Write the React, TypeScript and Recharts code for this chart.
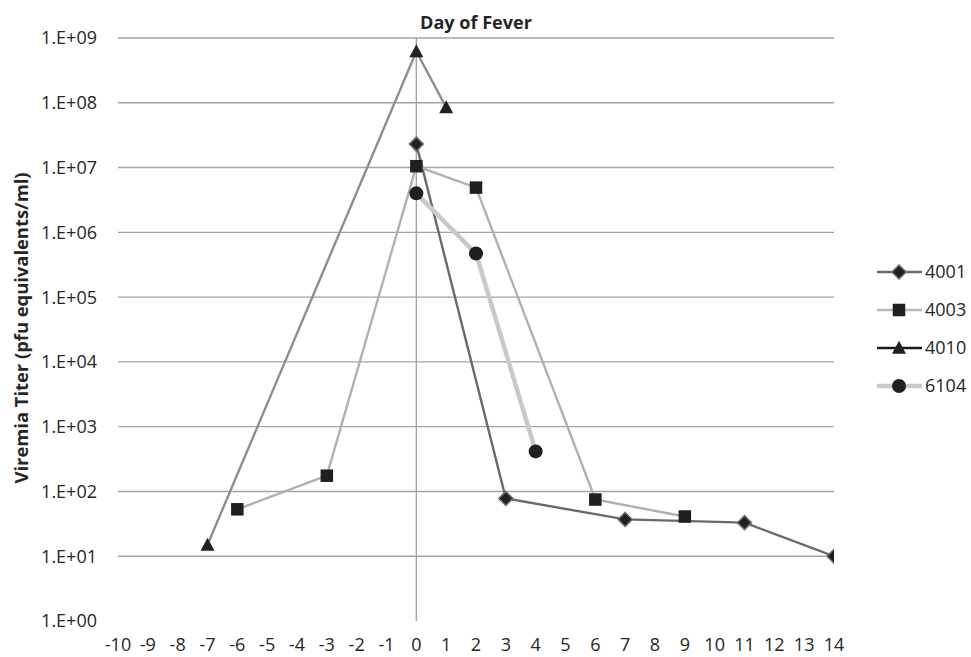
import React from 'react';
import { LineChart, Line, XAxis, YAxis, ReferenceLine } from 'recharts';

const xTicks = [-10, -9, -8, -7, -6, -5, -4, -3, -2, -1, 0, 1, 2, 3, 4, 5, 6, 7, 8, 9, 10, 11, 12, 13, 14];
const yTicks = [1, 1e1, 1e2, 1e3, 1e4, 1e5, 1e6, 1e7, 1e8, 1e9];
const gridValues = [1e1, 1e2, 1e3, 1e4, 1e5, 1e6, 1e7, 1e8, 1e9];

const days4001 = [0, 3, 7, 11, 14];
const titer4001 = [2.3e7, 78, 37, 33, 10];
const days4003 = [-6, -3, 0, 2, 6, 9];
const titer4003 = [53, 175, 1.05e7, 4.9e6, 75, 41];
const days4010 = [-7, 0, 1];
const titer4010 = [15, 6.2e8, 8.5e7];
const days6104 = [0, 2, 4];
const titer6104 = [4.0e6, 4.7e5, 415];

const toPoints = (days: number[], titers: number[]) =>
  days.map((d, i) => ({ day: d, titer: titers[i] }));

const FONT = '"Open Sans", "Noto Sans", sans-serif';
const TEXT = '#262626';
const MARK = '#231f20';

type Shape = 'diamond' | 'square' | 'triangle' | 'circle';

function Marker({ shape, cx, cy, border }: { shape: Shape; cx: number; cy: number; border?: string }) {
  if (cx == null || cy == null || isNaN(cx) || isNaN(cy)) return null;
  if (shape === 'diamond') {
    const r = 7;
    return (
      <path
        d={`M${cx},${cy - r}L${cx + r},${cy}L${cx},${cy + r}L${cx - r},${cy}Z`}
        fill={MARK}
        stroke={border || '#6a6a6a'}
        strokeWidth={1.5}
      />
    );
  }
  if (shape === 'square') {
    const s = 12.5;
    return <rect x={cx - s / 2} y={cy - s / 2} width={s} height={s} fill={MARK} />;
  }
  if (shape === 'triangle') {
    const w = 14;
    const h = 13;
    return (
      <path
        d={`M${cx},${cy - h * 0.55}L${cx + w / 2},${cy + h * 0.45}L${cx - w / 2},${cy + h * 0.45}Z`}
        fill={MARK}
      />
    );
  }
  return <circle cx={cx} cy={cy} r={7} fill={MARK} />;
}

const seriesInfo = [
  { name: '4001', shape: 'diamond' as Shape, line: '#6a6a6a', legendLine: '#6a6a6a', width: 2.4 },
  { name: '4003', shape: 'square' as Shape, line: '#b0b0b0', legendLine: '#b8b8b8', width: 2.4 },
  { name: '4010', shape: 'triangle' as Shape, line: '#8e8e8e', legendLine: '#1a1a1a', width: 2.4 },
  { name: '6104', shape: 'circle' as Shape, line: '#c9c9c9', legendLine: '#c9c9c9', width: 4.5 },
];

const seriesData = [
  toPoints(days4001, titer4001),
  toPoints(days4003, titer4003),
  toPoints(days4010, titer4010),
  toPoints(days6104, titer6104),
];

const formatY = (v: number) => {
  const e = Math.round(Math.log10(v));
  return `1.E+${e < 10 ? '0' + e : e}`;
};

export default function App() {
  return (
    <div style={{ position: 'absolute', left: 0, top: 0, width: 971, height: 657, background: '#fff' }}>
      <LineChart
        width={971}
        height={657}
        margin={{ top: 38, right: 137, bottom: 0, left: 0 }}
      >
        <XAxis
          type="number"
          dataKey="day"
          domain={[-10, 14]}
          ticks={xTicks}
          interval={0}
          axisLine={false}
          tickLine={false}
          tickSize={6}
          tickMargin={11}
          height={36}
          allowDataOverflow
          tick={{ fontFamily: FONT, fontSize: 18, fill: TEXT }}
        />
        <YAxis
          type="number"
          dataKey="titer"
          scale="log"
          domain={[1, 1e9]}
          ticks={yTicks}
          interval={0}
          axisLine={false}
          tickLine={false}
          tickSize={6}
          tickMargin={15}
          width={118}
          allowDataOverflow
          tickFormatter={formatY}
          tick={{ fontFamily: FONT, fontSize: 18, fill: TEXT }}
        />
        {gridValues.map((v) => (
          <ReferenceLine key={v} y={v} stroke="#a3a3a3" strokeWidth={1.4} />
        ))}
        <ReferenceLine x={0} stroke="#a3a3a3" strokeWidth={1.4} />
        {seriesInfo.map((s, i) => (
          <Line
            key={s.name}
            name={s.name}
            data={seriesData[i]}
            dataKey="titer"
            type="linear"
            stroke={s.line}
            strokeWidth={s.width}
            isAnimationActive={false}
            dot={(p: any) => <Marker key={`${s.name}-${p.index}`} shape={s.shape} cx={p.cx} cy={p.cy} />}
            activeDot={false}
          />
        ))}
      </LineChart>
      <svg
        width={971}
        height={657}
        style={{ position: 'absolute', left: 0, top: 0, pointerEvents: 'none' }}
      >
        <text
          x={476}
          y={29}
          textAnchor="middle"
          fontFamily={FONT}
          fontWeight="bold"
          fontSize={18}
          fill={TEXT}
          textLength={112}
          lengthAdjust="spacingAndGlyphs"
        >
          Day of Fever
        </text>
        <text
          transform="translate(28,328) rotate(-90)"
          textAnchor="middle"
          fontFamily={FONT}
          fontWeight="bold"
          fontSize={18}
          fill={TEXT}
          textLength={311}
          lengthAdjust="spacingAndGlyphs"
        >
          Viremia Titer (pfu equivalents/ml)
        </text>
        {seriesInfo.map((s, i) => {
          const y = 272 + i * 38;
          return (
            <g key={s.name}>
              <line x1={877} x2={922} y1={y} y2={y} stroke={s.legendLine} strokeWidth={s.shape === 'circle' ? 4.5 : 2.5} />
              <Marker shape={s.shape} cx={899} cy={y} />
              <text x={925} y={y} dy="0.355em" fontFamily={FONT} fontSize={18} fill={TEXT}>
                {s.name}
              </text>
            </g>
          );
        })}
      </svg>
    </div>
  );
}
